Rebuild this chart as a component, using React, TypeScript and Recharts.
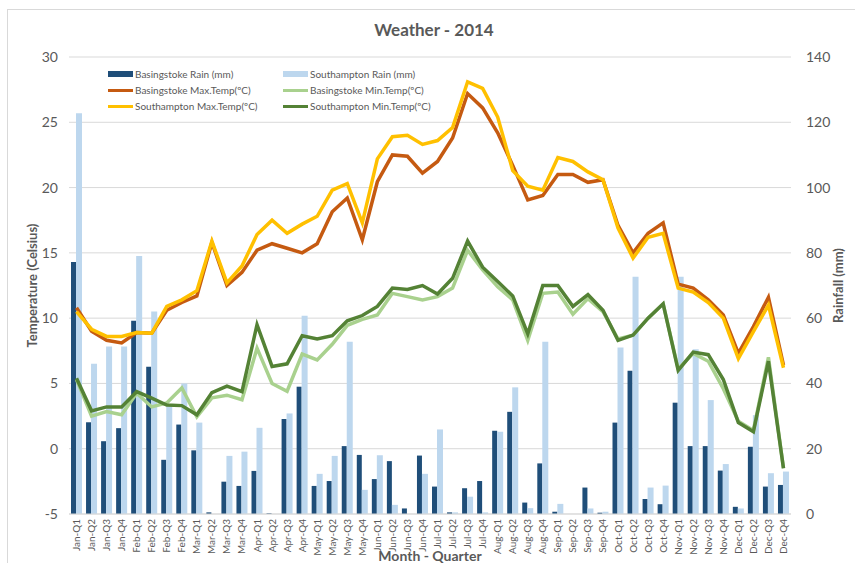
import React from 'react';
import { ComposedChart, Bar, Line, XAxis, YAxis, CartesianGrid, Legend, Label } from 'recharts';

const categories = [
  'Jan-Q1', 'Jan-Q2', 'Jan-Q3', 'Jan-Q4', 'Feb-Q1', 'Feb-Q2', 'Feb-Q3', 'Feb-Q4',
  'Mar-Q1', 'Mar-Q2', 'Mar-Q3', 'Mar-Q4', 'Apr-Q1', 'Apr-Q2', 'Apr-Q3', 'Apr-Q4',
  'May-Q1', 'May-Q2', 'May-Q3', 'May-Q4', 'Jun-Q1', 'Jun-Q2', 'Jun-Q3', 'Jun-Q4',
  'Jul-Q1', 'Jul-Q2', 'Jul-Q3', 'Jul-Q4', 'Aug-Q1', 'Aug-Q2', 'Aug-Q3', 'Aug-Q4',
  'Sep-Q1', 'Sep-Q2', 'Sep-Q3', 'Sep-Q4', 'Oct-Q1', 'Oct-Q2', 'Oct-Q3', 'Oct-Q4',
  'Nov-Q1', 'Nov-Q2', 'Nov-Q3', 'Nov-Q4', 'Dec-Q1', 'Dec-Q2', 'Dec-Q3', 'Dec-Q4',
];

const basingstokeRain = [
  77.2, 28.1, 22.3, 26.3, 59.2, 45.1, 16.6, 27.4,
  19.5, 0.5, 9.9, 8.6, 13.2, 0.2, 29.1, 39.0,
  8.6, 10.1, 20.8, 18.1, 10.7, 16.2, 1.7, 17.9,
  8.4, 0.5, 7.9, 10.1, 25.5, 31.3, 3.5, 15.5,
  0.7, 0, 8.1, 0.4, 28.0, 43.9, 4.6, 3.0,
  34.1, 20.8, 20.8, 13.3, 2.2, 20.6, 8.4, 8.9,
];

const southamptonRain = [
  122.8, 46.0, 51.3, 51.3, 79.0, 62.0, 33.0, 40.0,
  28.0, 0, 17.8, 19.1, 26.4, 0, 30.8, 60.7,
  12.3, 17.8, 52.8, 7.4, 18.0, 2.8, 0, 12.3,
  25.9, 0.5, 5.3, 0.5, 25.2, 38.8, 1.8, 52.8,
  3.1, 0, 1.7, 0.7, 51.0, 72.7, 8.1, 8.7,
  72.7, 50.5, 34.9, 15.3, 1.7, 30.3, 12.5, 13.0,
];

const basingstokeMax = [
  10.8, 9.0, 8.3, 8.1, 8.9, 8.85, 10.6, 11.2,
  11.7, 15.8, 12.5, 13.5, 15.2, 15.7, 15.35, 15.0,
  15.7, 18.15, 19.2, 16.0, 20.45, 22.5, 22.4, 21.1,
  22.0, 23.8, 27.2, 26.1, 24.2, 21.7, 19.05, 19.4,
  21.0, 21.0, 20.4, 20.6, 17.1, 15.0, 16.5, 17.3,
  12.6, 12.3, 11.4, 10.25, 7.3, 9.35, 11.6, 6.4,
];

const southamptonMax = [
  10.5, 9.15, 8.6, 8.6, 8.9, 8.85, 10.9, 11.4,
  12.1, 15.9, 12.7, 14.0, 16.4, 17.5, 16.5, 17.2,
  17.8, 19.8, 20.3, 17.3, 22.2, 23.9, 24.0, 23.3,
  23.6, 24.6, 28.1, 27.6, 25.4, 21.3, 20.1, 19.8,
  22.3, 22.0, 21.2, 20.6, 16.9, 14.6, 16.2, 16.5,
  12.3, 12.0, 11.2, 10.0, 6.9, 8.97, 11.0, 6.2,
];

const basingstokeMin = [
  5.3, 2.5, 2.85, 2.6, 4.25, 3.2, 3.5, 4.65,
  2.45, 3.9, 4.1, 3.75, 7.7, 5.0, 4.4, 7.25,
  6.8, 8.0, 9.45, 9.9, 10.25, 11.9, 11.65, 11.4,
  11.65, 12.3, 15.2, 13.7, 12.4, 11.4, 8.3, 11.9,
  12.0, 10.3, 11.5, 10.5, 8.4, 8.7, 10.0, 11.1,
  6.1, 7.3, 6.7, 4.6, 2.1, 1.4, 7.0, -1.5,
];

const southamptonMin = [
  5.4, 2.9, 3.2, 3.2, 4.37, 3.87, 3.35, 3.3,
  2.6, 4.3, 4.8, 4.37, 9.5, 6.3, 6.5, 8.65,
  8.4, 8.65, 9.8, 10.2, 10.9, 12.3, 12.2, 12.5,
  11.85, 13.05, 15.9, 13.9, 12.8, 11.7, 8.8, 12.5,
  12.5, 10.9, 11.8, 10.6, 8.3, 8.7, 10.0, 11.1,
  6.0, 7.4, 7.2, 5.3, 2.0, 1.3, 6.7, -1.5,
];

const tempTicks = [-5, 0, 5, 10, 15, 20, 25, 30];
const rainTicks = [0, 20, 40, 60, 80, 100, 120, 140];

const data = categories.map((cat, i) => ({
  cat,
  bRain: basingstokeRain[i],
  sRain: southamptonRain[i],
  bMax: basingstokeMax[i],
  sMax: southamptonMax[i],
  bMin: basingstokeMin[i],
  sMin: southamptonMin[i],
}));

const TEXT = '#595959';
const FONT = 'Lato, "Open Sans", "DejaVu Sans", sans-serif';
const GRID = '#d9d9d9';

const C_BRAIN = '#1F4E79';
const C_SRAIN = '#BDD7EE';
const C_BMAX = '#C55A11';
const C_SMAX = '#FFC000';
const C_BMIN = '#A9D18E';
const C_SMIN = '#548235';

const legendItems = [
  { name: 'Basingstoke Rain (mm)', color: C_BRAIN, kind: 'bar' },
  { name: 'Southampton Rain (mm)', color: C_SRAIN, kind: 'bar' },
  { name: 'Basingstoke Max.Temp(ºC)', color: C_BMAX, kind: 'line' },
  { name: 'Basingstoke Min.Temp(ºC)', color: C_BMIN, kind: 'line' },
  { name: 'Southampton Max.Temp(ºC)', color: C_SMAX, kind: 'line' },
  { name: 'Southampton Min.Temp(ºC)', color: C_SMIN, kind: 'line' },
];

const LegendContent = () => (
  <div
    style={{
      display: 'grid',
      gridTemplateColumns: '175px 185px',
      fontFamily: FONT,
      fontSize: 10,
      color: TEXT,
    }}
  >
    {legendItems.map((it) => (
      <div key={it.name} style={{ display: 'flex', alignItems: 'center', height: 16, whiteSpace: 'nowrap' }}>
        <span
          style={{
            display: 'inline-block',
            width: 25,
            height: it.kind === 'bar' ? 6 : 3,
            background: it.color,
            marginRight: 2,
          }}
        />
        <span>{it.name}</span>
      </div>
    ))}
  </div>
);

const XTick = (props: any) => {
  const { x, y, payload } = props;
  return (
    <text
      x={x}
      y={y}
      transform={`rotate(-90 ${x} ${y})`}
      textAnchor="end"
      dy="0.35em"
      fontSize={10}
      fill={TEXT}
      fontFamily={FONT}
    >
      {payload.value}
    </text>
  );
};

export default function App() {
  return (
    <div style={{ position: 'fixed', left: 0, top: 0, width: 855, height: 563, background: '#fff', fontFamily: FONT }}>
      <div
        style={{
          position: 'absolute',
          left: 7,
          top: 9,
          width: 848,
          height: 554,
          boxSizing: 'border-box',
          borderTop: `1px solid ${GRID}`,
          borderLeft: `1px solid ${GRID}`,
        }}
      />
      <div
        style={{
          position: 'absolute',
          left: 0,
          top: 19,
          width: 868,
          textAlign: 'center',
          fontWeight: 'bold',
          fontSize: 17,
          lineHeight: '22px',
          color: TEXT,
        }}
      >
        Weather - 2014
      </div>
      <ComposedChart
        width={855}
        height={563}
        data={data}
        margin={{ top: 57, right: 0, bottom: 0, left: 0 }}
        barGap={0}
        style={{ position: 'absolute', left: 0, top: 0 }}
      >
        <CartesianGrid yAxisId="temp" vertical={false} stroke={GRID} />
        <XAxis
          dataKey="cat"
          interval={0}
          tick={<XTick />}
          tickLine={false}
          axisLine={{ stroke: GRID }}
          height={49}
          tickSize={5}
          tickMargin={0}
        >
          <Label
            value="Month - Quarter"
            position="center"
            dy={18}
            fill={TEXT}
            fontSize={14}
            fontWeight="bold"
            fontFamily={FONT}
          />
        </XAxis>
        <YAxis
          yAxisId="temp"
          domain={[-5, 30]}
          ticks={tempTicks}
          width={69}
          axisLine={false}
          tickLine={false}
          tickMargin={5}
          tick={{ fill: TEXT, fontSize: 14, fontFamily: FONT }}
        >
          <Label
            value="Temperature (Celsius)"
            position="center"
            angle={-90}
            dx={-2}
            fill={TEXT}
            fontSize={13}
            fontWeight="bold"
            fontFamily={FONT}
          />
        </YAxis>
        <YAxis
          yAxisId="rain"
          orientation="right"
          domain={[0, 140]}
          ticks={rainTicks}
          width={64}
          axisLine={false}
          tickLine={false}
          tickMargin={9}
          tick={{ fill: TEXT, fontSize: 14, fontFamily: FONT }}
        >
          <Label
            value="Rainfall (mm)"
            position="center"
            angle={-90}
            dx={15}
            fill={TEXT}
            fontSize={13}
            fontWeight="bold"
            fontFamily={FONT}
          />
        </YAxis>
        <Legend
          layout="horizontal"
          verticalAlign="middle"
          align="center"
          content={<LegendContent />}
          wrapperStyle={{ left: 108, top: 66, width: 380, height: 48 }}
        />
        <Bar yAxisId="rain" dataKey="bRain" name="Basingstoke Rain (mm)" fill={C_BRAIN} barSize={5} isAnimationActive={false} />
        <Bar yAxisId="rain" dataKey="sRain" name="Southampton Rain (mm)" fill={C_SRAIN} barSize={6} isAnimationActive={false} />
        <Line yAxisId="temp" type="linear" dataKey="bMax" name="Basingstoke Max.Temp(ºC)" stroke={C_BMAX} strokeWidth={3.5} dot={false} activeDot={false} isAnimationActive={false} />
        <Line yAxisId="temp" type="linear" dataKey="bMin" name="Basingstoke Min.Temp(ºC)" stroke={C_BMIN} strokeWidth={3.5} dot={false} activeDot={false} isAnimationActive={false} />
        <Line yAxisId="temp" type="linear" dataKey="sMax" name="Southampton Max.Temp(ºC)" stroke={C_SMAX} strokeWidth={3.5} dot={false} activeDot={false} isAnimationActive={false} />
        <Line yAxisId="temp" type="linear" dataKey="sMin" name="Southampton Min.Temp(ºC)" stroke={C_SMIN} strokeWidth={3.5} dot={false} activeDot={false} isAnimationActive={false} />
      </ComposedChart>
    </div>
  );
}
